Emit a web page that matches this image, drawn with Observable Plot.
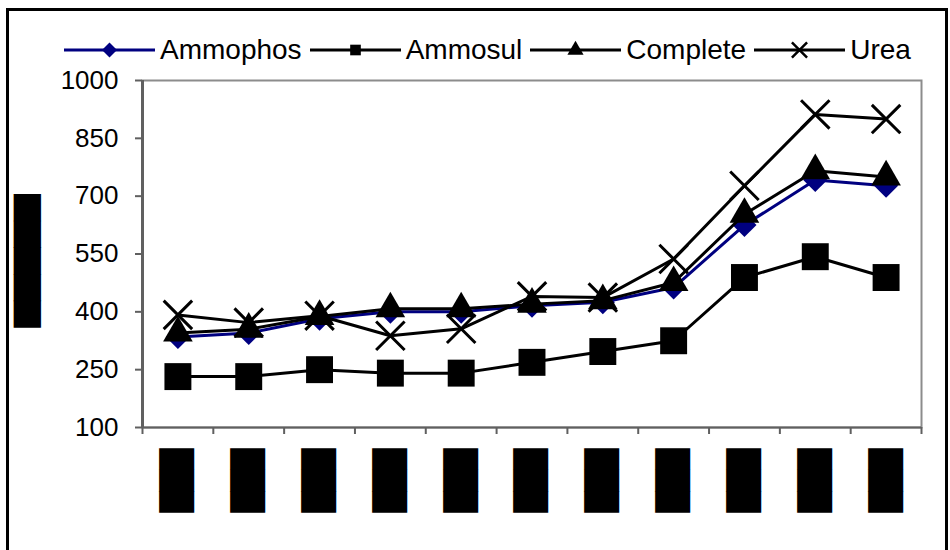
<!DOCTYPE html>
<html><head><meta charset="utf-8">
<script src="https://cdn.jsdelivr.net/npm/d3@7"></script>
<script src="https://cdn.jsdelivr.net/npm/@observablehq/plot@0.6"></script>
<style>
body{margin:0;background:#fff;font-family:"Liberation Sans",Arial,sans-serif;overflow:hidden;}
#frame{position:absolute;left:6px;top:8px;width:936px;height:560px;border:3px solid #000;overflow:hidden;background:#fff;}
#legend{height:55px;position:relative;}
#legend .items{position:absolute;left:55px;top:25px;display:flex;align-items:center;height:28px;}
.item{display:flex;align-items:center;margin-right:8px;}
.item span{font-size:28px;margin-left:5px;line-height:28px;color:#000;}
#chart svg{overflow:visible;}
</style></head><body>
<div id="frame"><div id="legend"><div class="items"></div></div><div id="chart"></div></div>
<script>
// ---- data ----
const tickLabels = ["███","███","███","███","███","███","███","███","███","███","███"];
const yLabel = "█████";
const yTicks = [100, 250, 400, 550, 700, 850, 1000];
const seriesNames = ["Ammophos", "Ammosul", "Complete", "Urea"];
const ammophos = [335, 345, 382, 400, 400, 416, 425, 463, 625, 742, 727];
const ammosul  = [232, 232, 250, 241, 241, 269, 297, 325, 489, 543, 489];
const complete = [345, 355, 388, 408, 408, 420, 429, 476, 653, 766, 750];
const urea     = [392, 372, 390, 338, 356, 440, 437, 537, 727, 912, 900];

// ---- styles ----
const rhombus = {draw(ctx, size){const d=Math.sqrt(size/2);ctx.moveTo(0,-d);ctx.lineTo(d,0);ctx.lineTo(0,d);ctx.lineTo(-d,0);ctx.closePath();}};
const styles = {
  Ammophos:{color:"#000080", symbol:rhombus, r:9.6, filled:true, lr:6},
  Ammosul:{color:"#000", symbol:d3.symbolSquare, r:15.2, filled:true, lr:6},
  Complete:{color:"#000", symbol:d3.symbolTriangle, r:11, filled:true, lr:6},
  Urea:{color:"#000", symbol:d3.symbolTimes, r:13, filled:false, lr:5.5}
};
const valuesBy = {Ammophos:ammophos, Ammosul:ammosul, Complete:complete, Urea:urea};
const table = seriesNames.flatMap(s => valuesBy[s].map((v,i)=>({series:s, idx:i+0.5, value:v})));

// ---- legend ----
const items = d3.select("#legend .items");
seriesNames.forEach(s=>{
  const st = styles[s];
  const it = items.append("div").attr("class","item");
  const sv = it.append("svg").attr("width",91).attr("height",28);
  sv.append("line").attr("x1",0).attr("x2",91).attr("y1",14).attr("y2",14).attr("stroke",st.color).attr("stroke-width",3);
  const sym = d3.symbol(st.symbol, Math.PI*st.lr*st.lr*(st.filled?1:1.6))();
  sv.append("path").attr("d",sym).attr("transform","translate(45.5,14)")
    .attr("fill",st.filled?st.color:"none").attr("stroke",st.filled?"none":st.color).attr("stroke-width",2.5);
  it.append("span").text(s);
});

// ---- chart ----
const n = tickLabels.length;
const seriesMarks = seriesNames.flatMap(s=>{
  const st = styles[s];
  const d = table.filter(r=>r.series===s);
  return [
    Plot.line(d,{x:"idx",y:"value",stroke:st.color,strokeWidth:3}),
    Plot.dot(d,{x:"idx",y:"value",symbol:st.symbol,r:st.r,
      fill:st.filled?st.color:"none",stroke:st.filled?"none":st.color,strokeWidth:3})
  ];
});
const chart = Plot.plot({
  width:936, height:487,
  marginLeft:133, marginRight:24, marginTop:14, marginBottom:126,
  x:{domain:[0,n], axis:null},
  y:{domain:[100,1000], axis:null},
  style:{fontFamily:"'Liberation Sans', Arial, sans-serif", background:"transparent", color:"#000"},
  marks:[
    Plot.frame({stroke:"#8c8c8c", strokeWidth:2}),
    Plot.axisY({ticks:yTicks, tickSize:7, tickPadding:17, fontSize:26, stroke:"#606060", strokeWidth:2, fill:"#000", label:null, tickFormat:d=>String(d)}),
    Plot.axisX({ticks:d3.range(n+1), tickSize:7, stroke:"#606060", strokeWidth:2, label:null, tickFormat:()=>""}),
    Plot.ruleX([0],{stroke:"#606060",strokeWidth:3}),
    Plot.ruleY([100],{stroke:"#606060",strokeWidth:2}),
    ...seriesMarks,
    Plot.text(tickLabels,{x:(d,i)=>i+0.5, text:d=>d, frameAnchor:"bottom", dy:53, rotate:-90,
      fontSize:29.5, fontFamily:"DejaVu Sans", fill:"#000", textAnchor:"middle", lineAnchor:"middle"}),
    Plot.text([yLabel],{text:d=>d, frameAnchor:"left", dx:-115, dy:7, rotate:-90,
      fontSize:23, fontFamily:"DejaVu Sans", fill:"#000", textAnchor:"middle", lineAnchor:"middle"})
  ]
});
document.getElementById("chart").appendChild(chart);
d3.select(chart).selectAll("text").filter(function(){return this.textContent.includes("█");})
  .each(function(){
    const t = this.textContent;
    d3.select(this).attr("lengthAdjust","spacingAndGlyphs").attr("textLength", t===yLabel?133:64);
  });
</script></body></html>
